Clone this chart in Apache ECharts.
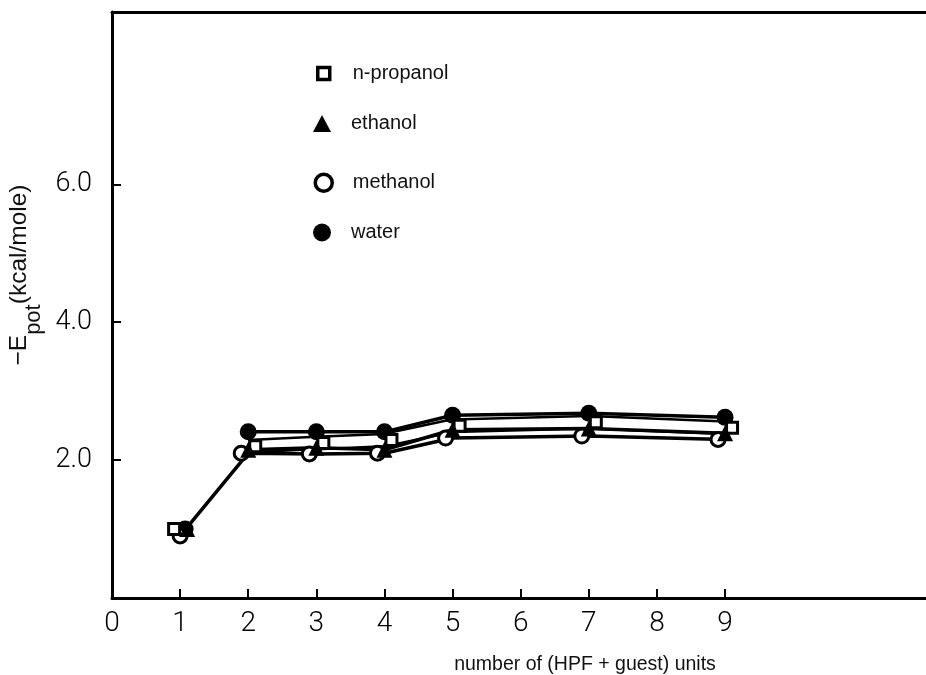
<!DOCTYPE html>
<html>
<head>
<meta charset="utf-8">
<script src="https://cdn.jsdelivr.net/npm/echarts@6/dist/echarts.min.js"></script>
<style>
  html, body { margin: 0; padding: 0; background: #fff; }
  #chart { width: 926px; height: 675px; }
</style>
</head>
<body>
<div id="chart"></div>
<script>
// Polarization energy per unit versus aggregate size
const units = [1, 2, 3, 4, 5, 7, 9];
const nPropanol = [1.0, 2.2, 2.25, 2.29, 2.5, 2.55, 2.47];
const ethanol = [1.0, 2.15, 2.18, 2.15, 2.44, 2.46, 2.39];
const methanol = [0.9, 2.1, 2.09, 2.1, 2.32, 2.35, 2.3];
const water = [1.0, 2.41, 2.41, 2.41, 2.65, 2.68, 2.62];

const xTickValues = [1, 2, 3, 4, 5, 6, 7, 8, 9];
const xLabelValues = [0, 1, 2, 3, 4, 5, 6, 7, 8, 9];
const yTickValues = [2, 4, 6];

const seriesNames = ['n-propanol', 'ethanol', 'methanol', 'water'];

// symbol styles for each substance
const markStyle = {
  'n-propanol': { symbol: 'rect', size: 11, offset: [7, 0], firstOffset: [-6, 0],
                  itemStyle: { color: '#fff', borderColor: '#000', borderWidth: 3, opacity: 1 } },
  'ethanol':    { symbol: 'triangle', size: 16, offset: [0, 0], firstOffset: [7, 0],
                  itemStyle: { color: '#000', opacity: 1 } },
  'methanol':   { symbol: 'circle', size: 14, offset: [-7, 0], firstOffset: [0, 0],
                  itemStyle: { color: '#fff', borderColor: '#000', borderWidth: 3, opacity: 1 } },
  'water':      { symbol: 'circle', size: 17, offset: [0, 0], firstOffset: [5, 0],
                  itemStyle: { color: '#000', opacity: 1 } }
};

function pairs(vals, fromIndex) {
  const out = [];
  for (let i = fromIndex; i < units.length; i++) out.push([units[i], vals[i]]);
  return out;
}

function points(name, vals) {
  const st = markStyle[name];
  return vals.map((v, i) => i === 0
    ? { value: [units[i], v], symbolOffset: st.firstOffset }
    : { value: [units[i], v] });
}

const lineBase = { type: 'line', symbol: 'none', silent: true, animation: false };

const series = [
  // n-propanol drawn as a hollow band
  Object.assign({}, lineBase, { name: 'n-propanol', data: pairs(nPropanol, 1), z: 2,
    lineStyle: { color: '#000', width: 15 } }),
  Object.assign({}, lineBase, { name: 'n-propanol', data: pairs(nPropanol, 1), z: 3,
    lineStyle: { color: '#fff', width: 10 } }),
  Object.assign({}, lineBase, { name: 'ethanol', data: pairs(ethanol, 1), z: 4,
    lineStyle: { color: '#000', width: 3.5 } }),
  Object.assign({}, lineBase, { name: 'methanol', data: pairs(methanol, 0), z: 4,
    lineStyle: { color: '#000', width: 3.5 } }),
  Object.assign({}, lineBase, { name: 'water', data: pairs(water, 1), z: 4,
    lineStyle: { color: '#000', width: 3.5 } })
];

const pointOrder = ['water', 'methanol', 'n-propanol', 'ethanol'];
const pointData = { 'n-propanol': nPropanol, 'ethanol': ethanol, 'methanol': methanol, 'water': water };
pointOrder.forEach((name, k) => {
  const st = markStyle[name];
  series.push({
    type: 'scatter', name: name, data: points(name, pointData[name]),
    symbol: st.symbol, symbolSize: st.size, symbolOffset: st.offset,
    itemStyle: st.itemStyle, z: 10 + k, animation: false
  });
});

// one legend block per substance, stacked by hand
const legendCenters = [75, 125, 184, 234];
const legendIconSize = { 'n-propanol': [12, 12], 'ethanol': [18, 17], 'methanol': [17, 17], 'water': [18, 18] };
const legendIconBorder = { 'n-propanol': 3.5, 'ethanol': 0, 'methanol': 3.5, 'water': 0 };
const legendFontSize = 20;
const legends = seriesNames.map((name, i) => {
  const st = markStyle[name];
  const [w, h] = legendIconSize[name];
  const boxH = Math.max(h, legendFontSize + 3);
  const style = Object.assign({}, st.itemStyle, { borderWidth: legendIconBorder[name] });
  return {
    left: 322 - w / 2, top: legendCenters[i] - boxH / 2, orient: 'vertical', padding: 0,
    itemWidth: w, itemHeight: h, selectedMode: false,
    data: [{ name: name, icon: st.symbol, itemStyle: style }],
    textStyle: { fontFamily: 'Liberation Sans, Arial, sans-serif', fontSize: legendFontSize,
                 color: '#111', padding: [0, 0, 0, 24 - w / 2] }
  };
});

const tickFont = { fontFamily: 'Roboto', fontWeight: 300, color: '#000' };
const nameFont = 'Liberation Sans, Arial, sans-serif';

const option = {
  backgroundColor: '#fff',
  animation: false,
  grid: { left: 112, right: 0, top: 12, bottom: 77, containLabel: false, outerBoundsMode: 'none' },
  legend: legends,
  xAxis: [{
    type: 'value', min: 0, max: 11.95, position: 'bottom',
    name: 'number of (HPF + guest) units', nameLocation: 'middle', nameGap: 57,
    nameTextStyle: { fontFamily: nameFont, fontSize: 19.5, color: '#111',
                     padding: [0, 0, 0, 132] },
    axisLine: { show: true, lineStyle: { color: '#000', width: 3 } },
    axisTick: { show: true, inside: true, length: 9, customValues: xTickValues,
                lineStyle: { color: '#000', width: 2 } },
    axisLabel: { show: true, customValues: xLabelValues, margin: 12,
                 fontSize: 28, ...tickFont },
    splitLine: { show: false }
  }, {
    type: 'value', min: 0, max: 11.95, position: 'top',
    axisLine: { show: true, onZero: false, lineStyle: { color: '#000', width: 3 } },
    axisTick: { show: false }, axisLabel: { show: false }, splitLine: { show: false }
  }],
  yAxis: {
    type: 'value', min: 0, max: 8.5,
    name: '{a|−E}{b|pot}{a|(kcal/mole)}', nameLocation: 'middle', nameGap: 66, nameRotate: 90,
    nameTextStyle: {
      color: '#111', fontFamily: nameFont, padding: [0, 0, 0, 60],
      rich: {
        // the subscript sits in a taller box so it drops below the main text
        a: { fontSize: 24.5, lineHeight: 26, fontFamily: nameFont, color: '#111', verticalAlign: 'top' },
        b: { fontSize: 22, lineHeight: 38, fontFamily: nameFont, color: '#111', verticalAlign: 'bottom' }
      }
    },
    axisLine: { show: true, onZero: false, lineStyle: { color: '#000', width: 3 } },
    axisTick: { show: true, inside: true, length: 9, customValues: yTickValues,
                lineStyle: { color: '#000', width: 2 } },
    axisLabel: { show: true, customValues: yTickValues, margin: 20, fontSize: 27,
                 formatter: v => v.toFixed(1), ...tickFont },
    splitLine: { show: false }
  },
  series: series
};

const chart = echarts.init(document.getElementById('chart'), null, { renderer: 'canvas' });
chart.setOption(option);
</script>
</body>
</html>
